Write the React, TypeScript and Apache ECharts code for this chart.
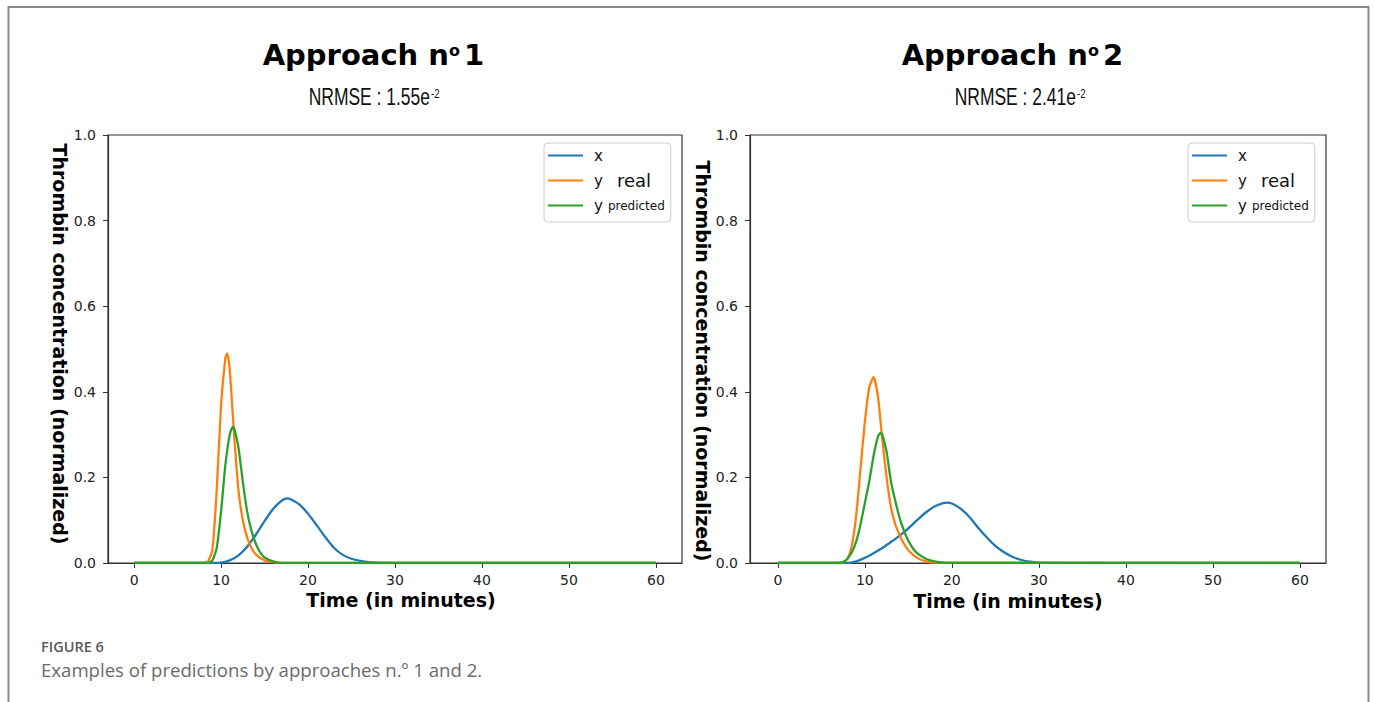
import React, { useEffect, useRef } from "react";
import * as echarts from "echarts";

// ---------- data ----------
const seriesNames = ["x", "y real", "y predicted"];
const xTicks = [0, 10, 20, 30, 40, 50, 60];

// Approach 1
const timeLeftX = [0, 9, 10, 11, 12, 13, 14, 15, 16, 17, 17.6, 18, 19, 20, 21, 22, 23, 24, 25, 26, 27, 28, 30, 60];
const valueLeftX = [0, 0, 0.001, 0.006, 0.018, 0.038, 0.066, 0.098, 0.127, 0.146, 0.151, 0.149, 0.137, 0.115, 0.088, 0.06, 0.035, 0.019, 0.01, 0.005, 0.002, 0.001, 0, 0];
const timeLeftReal = [0, 8, 8.5, 9, 9.5, 10, 10.5, 10.7, 11, 11.5, 12, 12.5, 13, 13.5, 14, 15, 16, 17, 60];
const valueLeftReal = [0, 0, 0.004, 0.03, 0.17, 0.37, 0.48, 0.49, 0.45, 0.3, 0.17, 0.1, 0.06, 0.035, 0.02, 0.006, 0.002, 0, 0];
const timeLeftPred = [0, 8.5, 9, 9.5, 10, 10.5, 11, 11.35, 11.5, 12, 12.5, 13, 13.5, 14, 14.5, 15, 16, 17, 60];
const valueLeftPred = [0, 0, 0.006, 0.035, 0.12, 0.23, 0.3, 0.318, 0.315, 0.27, 0.19, 0.12, 0.075, 0.045, 0.025, 0.013, 0.004, 0, 0];

// Approach 2
const timeRightX = [0, 8, 9, 10, 11, 12, 13, 14, 15, 16, 17, 18, 19, 19.5, 20, 21, 22, 23, 24, 25, 26, 27, 28, 29, 30, 32, 60];
const valueRightX = [0, 0, 0.004, 0.012, 0.023, 0.035, 0.049, 0.064, 0.081, 0.1, 0.118, 0.132, 0.14, 0.141, 0.139, 0.127, 0.108, 0.083, 0.06, 0.04, 0.025, 0.014, 0.007, 0.003, 0.001, 0, 0];
const timeRightReal = [0, 7, 7.5, 8, 8.5, 9, 9.5, 10, 10.5, 11, 11.5, 12, 12.5, 13, 13.5, 14, 14.5, 15, 16, 17, 18, 60];
const valueRightReal = [0, 0, 0.002, 0.01, 0.04, 0.11, 0.22, 0.33, 0.41, 0.434, 0.39, 0.29, 0.2, 0.13, 0.09, 0.065, 0.045, 0.03, 0.012, 0.004, 0.001, 0];
const timeRightPred = [0, 7, 7.5, 8, 8.5, 9, 9.5, 10, 10.5, 11, 11.5, 11.8, 12, 12.5, 13, 13.5, 14, 14.5, 15, 15.5, 16, 17, 18, 19, 20, 60];
const valueRightPred = [0, 0, 0.002, 0.01, 0.025, 0.05, 0.09, 0.14, 0.19, 0.25, 0.295, 0.304, 0.3, 0.26, 0.19, 0.145, 0.105, 0.075, 0.052, 0.035, 0.023, 0.01, 0.004, 0.001, 0, 0];

const colors = ["#1f77b4", "#ff7f0e", "#2ca02c"];

const zip = (t: number[], v: number[]) => t.map((ti, i) => [ti, v[i]]);

export default function App() {
  const ref = useRef<HTMLDivElement>(null);
  useEffect(() => {
    if (!ref.current) return;
    const chart = echarts.init(ref.current, undefined, { renderer: "svg" });
    const tickFont = { fontSize: 14, color: "#222", fontFamily: "DejaVu Sans" };
    const makeX = (gridIndex: number, min: number) => ({
      type: "value",
      gridIndex,
      min,
      max: 63,
      axisLine: { show: true, onZero: false, lineStyle: { color: "#333", width: 1.2 } },
      axisTick: { show: true, length: 5, customValues: xTicks, lineStyle: { color: "#333" } },
      axisLabel: { ...tickFont, margin: 10, customValues: xTicks },
      splitLine: { show: false },
    });
    const makeY = (gridIndex: number) => ({
      type: "value",
      gridIndex,
      min: 0,
      max: 1,
      interval: 0.2,
      axisLine: { show: true, onZero: false, lineStyle: { color: "#333", width: 1.2 } },
      axisTick: { show: true, length: 5, lineStyle: { color: "#333" } },
      axisLabel: { ...tickFont, margin: 12, formatter: (v: number) => v.toFixed(1) },
      splitLine: { show: false },
    });
    const lineSeries = (name: string, idx: number, data: number[][], color: string) => ({
      type: "line",
      name,
      xAxisIndex: idx,
      yAxisIndex: idx,
      data,
      showSymbol: false,
      smooth: 0.2,
      lineStyle: { color, width: 2.3 },
      itemStyle: { color },
      z: 3,
    });
    const legendRich = {
      a: { fontSize: 15, lineHeight: 20, color: "#111", fontFamily: "DejaVu Sans", padding: [0, 0, 0, 6] },
      b: { fontSize: 18, lineHeight: 20, color: "#111", fontFamily: "DejaVu Sans", padding: [0, 0, 0, 14] },
      c: { fontSize: 12, lineHeight: 20, color: "#111", fontFamily: "DejaVu Sans", padding: [0, 0, 0, 5] },
    };
    const legendFmt = (name: string) =>
      name === "x" ? "{a|x}" : name === "y real" ? "{a|y}{b|real}" : "{a|y}{c|predicted}";
    const makeLegend = (left: number) => ({
      left,
      top: 143,
      orient: "vertical",
      data: seriesNames,
      icon: "rect",
      itemWidth: 35,
      itemHeight: 2,
      itemGap: 8.5,
      padding: [5, 6, 9, 4],
      borderColor: "#cccccc",
      borderWidth: 1,
      borderRadius: 4,
      backgroundColor: "#ffffff",
      formatter: legendFmt,
      textStyle: { rich: legendRich },
      selectedMode: false,
    });

    const titleFont = "DejaVu Sans";
    const subFont = "'Liberation Sans', Arial, sans-serif";
    const titleGroup = (nx: number, num: string, sub: string, subX: number) => [
      { type: "text", x: nx, y: 55, style: { text: "Approach n", align: "right", verticalAlign: "middle", fontSize: 29, fontWeight: "bold", fontFamily: titleFont, fill: "#000" } },
      { type: "text", x: nx, y: 50.5, style: { text: "o", align: "left", verticalAlign: "middle", fontSize: 16, fontWeight: "bold", fontFamily: titleFont, fill: "#000" } },
      { type: "text", x: nx + 15, y: 55, style: { text: num, align: "left", verticalAlign: "middle", fontSize: 29, fontWeight: "bold", fontFamily: titleFont, fill: "#000" } },
      { type: "text", x: subX, y: 97, scaleX: 0.76, style: { text: sub, align: "right", verticalAlign: "middle", fontSize: 23, fontFamily: subFont, fill: "#111" } },
      { type: "text", x: subX + 1, y: 94, scaleX: 0.8, style: { text: "-2", align: "left", verticalAlign: "middle", fontSize: 12, fontFamily: subFont, fill: "#111" } },
    ];
    const axisTitle = (x: number, y: number, text: string, rotated: boolean) => ({
      type: "text",
      x,
      y,
      rotation: rotated ? -Math.PI / 2 : 0,
      style: { text, align: "center", verticalAlign: "middle", fontSize: 19, fontWeight: "bold", fontFamily: "DejaVu Sans", fill: "#000" },
    });

    chart.setOption({
      animation: false,
      backgroundColor: "#ffffff",
      grid: [
        { left: 108, top: 135, width: 574, height: 428, show: true, borderColor: "#333", borderWidth: 1.2, backgroundColor: "transparent" },
        { left: 750, top: 135, width: 576, height: 428, show: true, borderColor: "#333", borderWidth: 1.2, backgroundColor: "transparent" },
      ],
      xAxis: [makeX(0, -3), makeX(1, -3.2)],
      yAxis: [makeY(0), makeY(1)],
      legend: [makeLegend(544), makeLegend(1188)],
      series: [
        lineSeries("x", 0, zip(timeLeftX, valueLeftX), colors[0]),
        lineSeries("y real", 0, zip(timeLeftReal, valueLeftReal), colors[1]),
        lineSeries("y predicted", 0, zip(timeLeftPred, valueLeftPred), colors[2]),
        lineSeries("x", 1, zip(timeRightX, valueRightX), colors[0]),
        lineSeries("y real", 1, zip(timeRightReal, valueRightReal), colors[1]),
        lineSeries("y predicted", 1, zip(timeRightPred, valueRightPred), colors[2]),
      ],
      graphic: [
        { type: "polyline", shape: { points: [[8.5, 702], [8.5, 7], [1368.5, 7], [1368.5, 702]] }, style: { stroke: "#8a8a8a", lineWidth: 2, fill: "none" } },
        ...titleGroup(449, "1", "NRMSE : 1.55e", 430),
        ...titleGroup(1088, "2", "NRMSE : 2.41e", 1076),
        axisTitle(60, 344, "Thrombin concentration (normalized)", true),
        axisTitle(703, 361, "Thrombin concentration (normalized)", true),
        axisTitle(401, 600, "Time (in minutes)", false),
        axisTitle(1008, 601, "Time (in minutes)", false),
        { type: "text", x: 41, y: 646, style: { text: "FIGURE 6", align: "left", verticalAlign: "middle", fontSize: 14.5, fontWeight: 600, fontFamily: "'Open Sans', sans-serif", fill: "#5a5a5a" } },
        { type: "text", x: 41, y: 669, style: { text: "Examples of predictions by approaches n.º 1 and 2.", align: "left", verticalAlign: "middle", fontSize: 18.6, fontFamily: "'Open Sans', sans-serif", fill: "#6a6a6a" } },
      ],
    });
    return () => chart.dispose();
  }, []);
  return <div ref={ref} style={{ position: "fixed", left: 0, top: 0, width: 1375, height: 702 }} />;
}
